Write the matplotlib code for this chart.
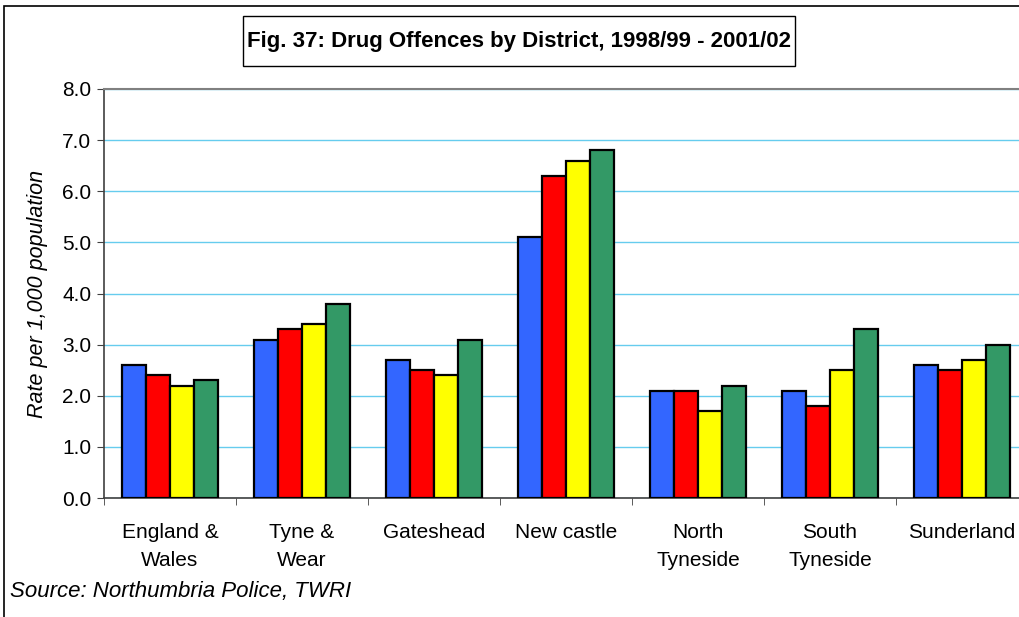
import matplotlib
matplotlib.use("Agg")
import matplotlib.pyplot as plt
from matplotlib.patches import Rectangle
import numpy as np

districts = ["England &\nWales", "Tyne &\nWear", "Gateshead", "New castle",
             "North\nTyneside", "South\nTyneside", "Sunderland"]
years = ["1998/99", "1999/00", "2000/01", "2001/02"]
rate_1998 = [2.6, 3.1, 2.7, 5.1, 2.1, 2.1, 2.6]
rate_1999 = [2.4, 3.3, 2.5, 6.3, 2.1, 1.8, 2.5]
rate_2000 = [2.2, 3.4, 2.4, 6.6, 1.7, 2.5, 2.7]
rate_2001 = [2.3, 3.8, 3.1, 6.8, 2.2, 3.3, 3.0]
y_ticks = [0.0, 1.0, 2.0, 3.0, 4.0, 5.0, 6.0, 7.0, 8.0]

series = [rate_1998, rate_1999, rate_2000, rate_2001]
colors = ["#3366FF", "#FF0000", "#FFFF00", "#339966"]

plt.rcParams["font.family"] = ["Liberation Sans", "DejaVu Sans"]

W, H = 1020, 617
fig = plt.figure(figsize=(W / 100, H / 100), dpi=100)

# outer chart frame
fig.patches.append(Rectangle((4 / W, -0.1), 1.2, 1.1 - 6 / H,
                             transform=fig.transFigure, fill=False,
                             edgecolor="black", linewidth=1.2))

ax = fig.add_axes([104 / W, (H - 498) / H, (1028 - 104) / W, (498 - 89) / H])

x = np.arange(len(districts))
bw = 0.182
for i, (vals, c) in enumerate(zip(series, colors)):
    ax.bar(x + (i - 1.5) * bw, vals, bw, color=c, edgecolor="black",
           linewidth=1.6, label=years[i], zorder=3)

ax.set_xlim(-0.5, len(districts) - 0.5)
ax.set_ylim(0, 8)
ax.set_yticks(y_ticks)
ax.set_yticklabels([f"{v:.1f}" for v in y_ticks], fontsize=15)
ax.yaxis.grid(True, color="#66CCEE", linewidth=1.0, zorder=0)
ax.set_axisbelow(True)

ax.set_xticks(x)
ax.set_xticklabels(districts, fontsize=15, linespacing=1.6)
ax.tick_params(axis="x", which="major", length=0, pad=18)
ax.set_xticks(np.arange(-0.5, len(districts), 1.0), minor=True)
ax.tick_params(axis="x", which="minor", length=5, direction="out",
               color="#404040")
ax.tick_params(axis="y", length=5, direction="out", color="#404040", pad=4)

for side in ["left", "bottom"]:
    ax.spines[side].set_color("#404040")
    ax.spines[side].set_linewidth(1.2)
ax.spines["top"].set_color("#808080")
ax.spines["top"].set_linewidth(1.5)
ax.spines["right"].set_visible(False)

ax.set_ylabel("Rate per 1,000 population", fontsize=15.5, style="italic",
              labelpad=10)

# title box
fig.patches.append(Rectangle((243 / W, 1 - 66 / H), (795 - 243) / W, 50 / H,
                             transform=fig.transFigure, facecolor="white",
                             edgecolor="black", linewidth=1.0))
fig.text(519 / W, 1 - 42 / H, "Fig. 37: Drug Offences by District, 1998/99 - 2001/02",
         ha="center", va="center", fontsize=16, fontweight="bold")

fig.text(10 / W, 1 - 592 / H, "Source: Northumbria Police, TWRI",
         ha="left", va="center", fontsize=16, style="italic")

fig.savefig("out.png", dpi=100)
